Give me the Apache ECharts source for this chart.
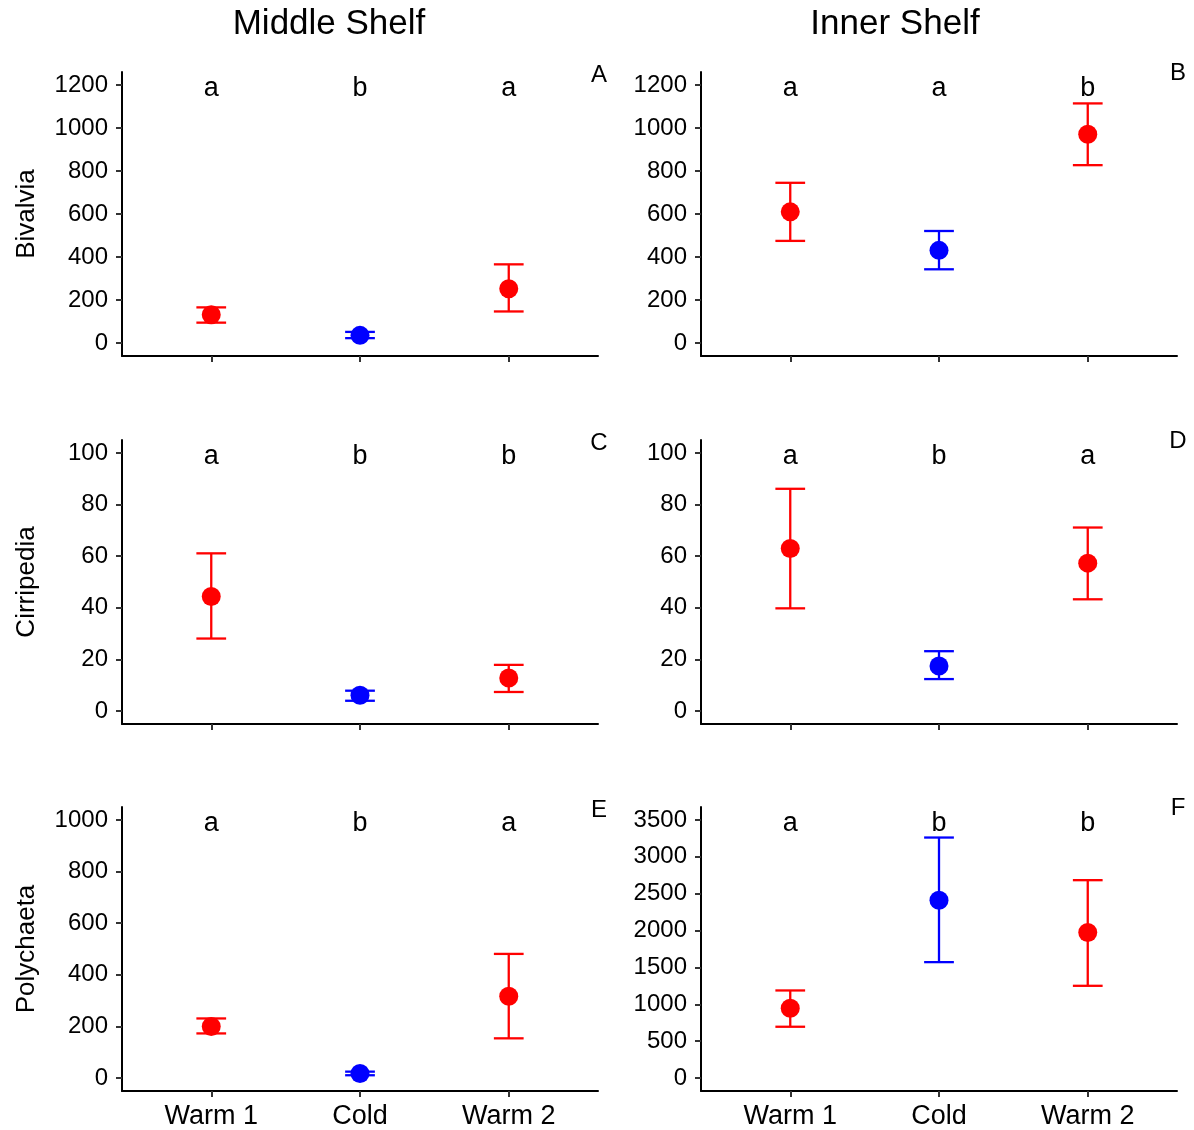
<!DOCTYPE html>
<html style="height: 100%">
<head>
    <meta charset="utf-8">
</head>
<body style="height: 100%; margin: 0; background: #fff">
<div id="container" style="width: 1194px; height: 1130px"></div>
<script type="text/javascript" src="https://cdn.jsdelivr.net/npm/echarts@6/dist/echarts.min.js"></script>
<script type="text/javascript">
// sampling periods on the x axis
var groups = ['Warm 1', 'Cold', 'Warm 2'];

// [mean, lower, upper] for each period
var middleBivalvia = [[132, 95, 166], [36, 23, 52], [253, 147, 366]];
var innerBivalvia = [[610, 475, 745], [431, 343, 521], [971, 827, 1114]];
var middleCirripedia = [[44.4, 28.1, 61.1], [6.1, 4.0, 7.9], [12.8, 7.4, 17.9]];
var innerCirripedia = [[63.0, 39.8, 86.1], [17.5, 12.4, 23.2], [57.3, 43.3, 71.1]];
var middlePolychaeta = [[200, 173, 231], [18, 11, 25], [317, 154, 481]];
var innerPolychaeta = [[948, 696, 1188], [2412, 1572, 3261], [1974, 1251, 2683]];

// significance letters
var lettersA = ['a', 'b', 'a'];
var lettersB = ['a', 'a', 'b'];
var lettersC = ['a', 'b', 'b'];
var lettersD = ['a', 'b', 'a'];
var lettersE = ['a', 'b', 'a'];
var lettersF = ['a', 'b', 'b'];

// y tick labels
var ticksBivalvia = [0, 200, 400, 600, 800, 1000, 1200];
var ticksCirripedia = [0, 20, 40, 60, 80, 100];
var ticksPolyMiddle = [0, 200, 400, 600, 800, 1000];
var ticksPolyInner = [0, 500, 1000, 1500, 2000, 2500, 3000, 3500];

var shelves = ['Middle Shelf', 'Inner Shelf'];
var taxa = ['Bivalvia', 'Cirripedia', 'Polychaeta'];

var panels = [
    {tag: 'A', row: 0, col: 0, data: middleBivalvia, letters: lettersA, ticks: ticksBivalvia},
    {tag: 'B', row: 0, col: 1, data: innerBivalvia, letters: lettersB, ticks: ticksBivalvia},
    {tag: 'C', row: 1, col: 0, data: middleCirripedia, letters: lettersC, ticks: ticksCirripedia},
    {tag: 'D', row: 1, col: 1, data: innerCirripedia, letters: lettersD, ticks: ticksCirripedia},
    {tag: 'E', row: 2, col: 0, data: middlePolychaeta, letters: lettersE, ticks: ticksPolyMiddle},
    {tag: 'F', row: 2, col: 1, data: innerPolychaeta, letters: lettersF, ticks: ticksPolyInner}
];

var FONT = 'Liberation Sans, Arial, sans-serif';
var groupColor = ['#ff0000', '#0000ff', '#ff0000'];
var gridLeft = [122, 701];
var gridTop = [72, 440, 807];
var gridW = 476, gridH = 284;
var titleX = [329, 895];
var tagPos = [[599, 75], [1178, 73]];
var xPos = [1, 2, 3];

var dom = document.getElementById('container');
var myChart = echarts.init(dom, null, {renderer: 'canvas'});

var grid = [], xAxis = [], yAxis = [], series = [], graphic = [];

function renderErrorBar(params, api) {
    var x = api.value(0);
    var lo = api.coord([x, api.value(1)]);
    var hi = api.coord([x, api.value(2)]);
    var half = api.size([0.1, 0])[0];
    var color = api.visual('color');
    var st = {stroke: color, lineWidth: 2.3};
    return {
        type: 'group',
        children: [
            {type: 'line', shape: {x1: lo[0], y1: lo[1], x2: hi[0], y2: hi[1]}, style: st},
            {type: 'line', shape: {x1: lo[0] - half, y1: lo[1], x2: lo[0] + half, y2: lo[1]}, style: st},
            {type: 'line', shape: {x1: hi[0] - half, y1: hi[1], x2: hi[0] + half, y2: hi[1]}, style: st}
        ]
    };
}

function makeLetterRenderer(letters) {
    return function (params, api) {
        var pt = api.coord([api.value(0), api.value(1)]);
        return {
            type: 'text',
            x: pt[0], y: pt[1] + 4,
            style: {
                text: letters[params.dataIndex],
                font: '27px ' + FONT, fill: '#000',
                textAlign: 'center', textVerticalAlign: 'middle'
            }
        };
    };
}

panels.forEach(function (p, i) {
    var top = p.ticks[p.ticks.length - 1];
    grid.push({
        left: gridLeft[p.col], top: gridTop[p.row],
        width: gridW, height: gridH
    });
    var bottomRow = p.row === 2;
    xAxis.push({
        type: 'value', gridIndex: i,
        min: 0.4, max: 3.6,
        splitLine: {show: false},
        axisLine: {show: true, onZero: false, lineStyle: {color: '#000', width: 2}},
        axisTick: {show: true, customValues: xPos, length: 6, lineStyle: {color: '#333', width: 2}},
        axisLabel: {
            show: bottomRow, customValues: xPos, margin: 12,
            fontFamily: FONT, fontSize: 27, color: '#000',
            formatter: function (v) { return groups[Math.round(v) - 1]; }
        }
    });
    yAxis.push({
        type: 'value', gridIndex: i,
        min: -0.05 * top, max: 1.05 * top,
        name: p.col === 0 ? taxa[p.row] : '',
        nameLocation: 'middle', nameRotate: 90, nameGap: 82,
        nameTextStyle: {fontFamily: FONT, fontSize: 26, color: '#000'},
        splitLine: {show: false},
        axisLine: {show: true, onZero: false, lineStyle: {color: '#000', width: 2}},
        axisTick: {show: true, customValues: p.ticks, length: 6, lineStyle: {color: '#333', width: 2}},
        axisLabel: {
            customValues: p.ticks, margin: 14,
            fontFamily: FONT, fontSize: 24, color: '#000',
            formatter: function (v) { return String(v); }
        }
    });

    series.push({
        type: 'custom', xAxisIndex: i, yAxisIndex: i,
        renderItem: renderErrorBar, z: 2, silent: true,
        data: p.data.map(function (d, k) {
            return {value: [xPos[k], d[1], d[2]], itemStyle: {color: groupColor[k]}};
        })
    });
    series.push({
        type: 'scatter', xAxisIndex: i, yAxisIndex: i,
        symbolSize: 19, z: 3, silent: true,
        data: p.data.map(function (d, k) {
            return {value: [xPos[k], d[0]], itemStyle: {color: groupColor[k], opacity: 1}};
        })
    });
    series.push({
        type: 'custom', xAxisIndex: i, yAxisIndex: i,
        renderItem: makeLetterRenderer(p.letters), z: 4, silent: true,
        data: p.letters.map(function (l, k) { return [xPos[k], top]; })
    });

    var tp = tagPos[p.col];
    graphic.push({
        type: 'text',
        x: tp[0], y: gridTop[p.row] + (tp[1] - 72),
        style: {
            text: p.tag, font: '24px ' + FONT, fill: '#000',
            textAlign: 'center', textVerticalAlign: 'middle'
        }
    });
});

shelves.forEach(function (s, c) {
    graphic.push({
        type: 'text',
        x: titleX[c], y: 24,
        style: {
            text: s, font: '35px ' + FONT, fill: '#000',
            textAlign: 'center', textVerticalAlign: 'middle'
        }
    });
});

var option = {
    backgroundColor: '#fff',
    animation: false,
    grid: grid,
    xAxis: xAxis,
    yAxis: yAxis,
    series: series,
    graphic: graphic
};

myChart.setOption(option);
</script>
</body>
</html>
